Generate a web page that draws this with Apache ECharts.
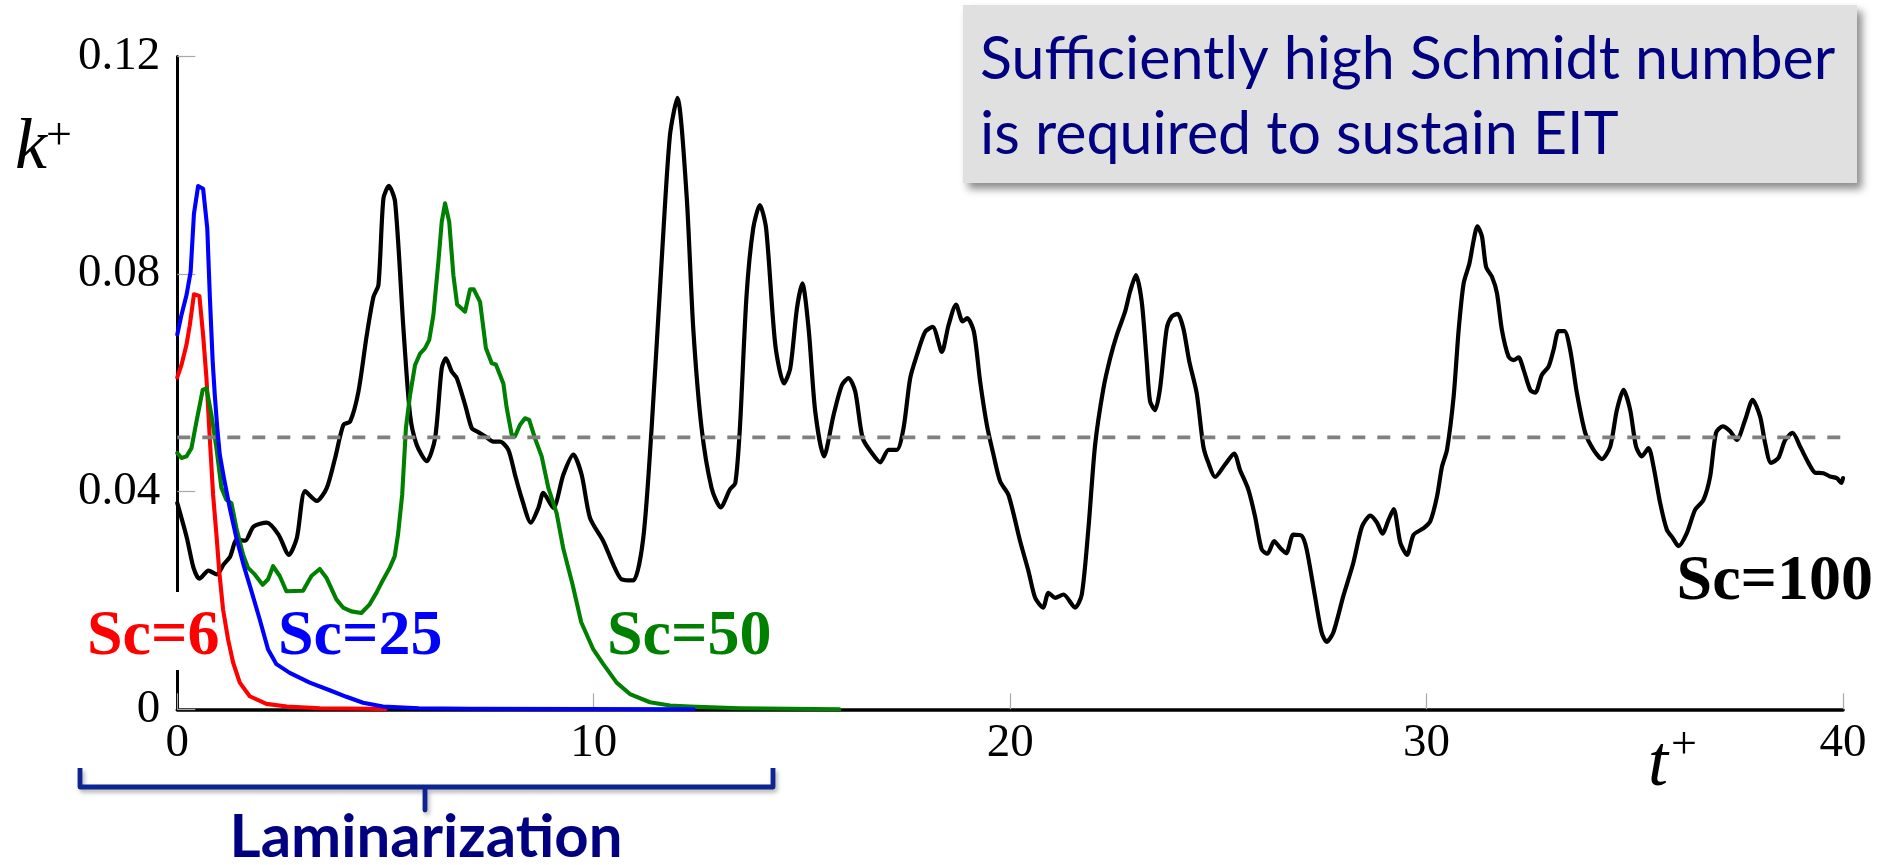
<!DOCTYPE html>
<html>
<head>
<meta charset="utf-8">
<script src="https://cdn.jsdelivr.net/npm/echarts@6/dist/echarts.min.js"></script>
<style>
  html, body { margin: 0; padding: 0; background: #ffffff; }
  #chart { width: 1879px; height: 865px; }
</style>
</head>
<body>
<div id="chart"></div>
<script>
// Axis tick labels
const xTickLabels = ['0', '10', '20', '30', '40'];
const yTickLabels = ['0', '0.04', '0.08', '0.12'];

// Reference level of k+
const kThreshold = 0.05;

// Turbulent kinetic energy k+ versus time t+ for each Schmidt number: [t+, k+]
const sc6 = [
  [0, 0.061], [0.1, 0.0633], [0.22, 0.067], [0.3, 0.0706], [0.4, 0.0763], [0.53, 0.076],
  [0.62, 0.0688], [0.7, 0.0609], [0.78, 0.0498], [0.86, 0.0394], [0.94, 0.0321], [1.01, 0.0251],
  [1.1, 0.0183], [1.22, 0.0128], [1.34, 0.0086], [1.5, 0.0049], [1.74, 0.0024], [2.14, 0.001],
  [2.63, 0.0005], [3.43, 0.0002], [4.6, 0.0001], [5.0, 0]
];

const sc25 = [
  [0, 0.0689], [0.1, 0.0725], [0.22, 0.0761], [0.32, 0.0804], [0.4, 0.0911], [0.5, 0.0962],
  [0.62, 0.0957], [0.72, 0.0884], [0.78, 0.0761], [0.85, 0.0639], [0.9, 0.0578], [0.96, 0.0517],
  [1.02, 0.0468], [1.12, 0.0425], [1.26, 0.037], [1.42, 0.0315], [1.6, 0.0263], [1.77, 0.022],
  [1.98, 0.0165], [2.18, 0.011], [2.38, 0.0083], [2.7, 0.0067], [3.18, 0.0049], [3.66, 0.0035],
  [4.06, 0.0023], [4.46, 0.0012], [4.94, 0.0005], [5.8, 0.0002], [7.0, 0.0001], [12.4, 0]
];

const sc50 = [
  [0, 0.0471], [0.1, 0.0462], [0.22, 0.0465], [0.34, 0.048], [0.46, 0.0529], [0.61, 0.0587],
  [0.7, 0.059], [0.82, 0.0541], [0.94, 0.048], [1.06, 0.0407], [1.18, 0.0385], [1.3, 0.0379],
  [1.42, 0.0333], [1.58, 0.0284], [1.7, 0.026], [1.86, 0.0248], [2.05, 0.0229], [2.18, 0.0239],
  [2.3, 0.0263], [2.46, 0.0245], [2.62, 0.0217], [3.02, 0.0218], [3.22, 0.0245], [3.42, 0.0258],
  [3.58, 0.0242], [3.82, 0.0202], [3.98, 0.0187], [4.18, 0.018], [4.42, 0.0177], [4.62, 0.0193],
  [4.78, 0.0214], [4.9, 0.0232], [5.1, 0.026], [5.22, 0.0281], [5.3, 0.0321], [5.4, 0.0394],
  [5.49, 0.0517], [5.59, 0.0578], [5.71, 0.0633], [5.83, 0.0654], [5.95, 0.0664], [6.05, 0.0679],
  [6.15, 0.0725], [6.27, 0.0823], [6.35, 0.0896], [6.43, 0.093], [6.53, 0.0896], [6.63, 0.0798],
  [6.72, 0.0744], [6.91, 0.0731], [7.03, 0.0772], [7.12, 0.0772], [7.27, 0.0749], [7.41, 0.0664],
  [7.55, 0.0636], [7.65, 0.0634], [7.83, 0.0599], [7.91, 0.0554], [8.03, 0.0505], [8.11, 0.0502],
  [8.23, 0.0523], [8.35, 0.0535], [8.45, 0.0532], [8.59, 0.0498], [8.75, 0.0465], [8.91, 0.0407],
  [9.11, 0.036], [9.27, 0.0295], [9.49, 0.023], [9.7, 0.016], [9.99, 0.011], [10.23, 0.0083],
  [10.55, 0.0049], [10.87, 0.0028], [11.35, 0.0013], [11.83, 0.0007], [12.31, 0.0005],
  [13.5, 0.0002], [15.9, 0]
];

const sc100 = [
  [0, 0.0379], [0.23, 0.0315], [0.39, 0.026], [0.53, 0.024], [0.75, 0.0255], [0.95, 0.0248],
  [1.11, 0.0266], [1.27, 0.0281], [1.43, 0.0312], [1.63, 0.031], [1.83, 0.0336], [2.15, 0.0343],
  [2.43, 0.0321], [2.68, 0.0284], [2.87, 0.0315], [3.07, 0.0401], [3.35, 0.0383], [3.59, 0.0407],
  [3.79, 0.0462], [3.99, 0.0523], [4.15, 0.0529], [4.35, 0.0584], [4.55, 0.0688], [4.71, 0.0758],
  [4.83, 0.078], [4.95, 0.0939], [5.08, 0.0962], [5.23, 0.0933], [5.43, 0.07], [5.59, 0.0541],
  [5.75, 0.0486], [5.99, 0.0456], [6.19, 0.0498], [6.35, 0.0627], [6.45, 0.0645], [6.59, 0.0621],
  [6.71, 0.0609], [6.91, 0.056], [7.07, 0.0517], [7.19, 0.0511], [7.39, 0.0502], [7.59, 0.0492],
  [7.75, 0.0492], [7.95, 0.0477], [8.11, 0.0431], [8.27, 0.0388], [8.49, 0.0343], [8.67, 0.037],
  [8.79, 0.0398], [9.03, 0.037], [9.27, 0.0431], [9.51, 0.0468], [9.71, 0.0431], [9.91, 0.0352],
  [10.23, 0.0309], [10.47, 0.0266], [10.67, 0.0239], [10.95, 0.0237], [11.19, 0.0315],
  [11.39, 0.0517], [11.63, 0.0823], [11.83, 0.1055], [12.01, 0.1124], [12.23, 0.0945],
  [12.39, 0.07], [12.59, 0.0517], [12.83, 0.0407], [13.05, 0.0371], [13.27, 0.0404], [13.4, 0.0416],
  [13.51, 0.0517], [13.67, 0.0761], [13.83, 0.0884], [13.99, 0.0927], [14.14, 0.0884], [14.36, 0.067],
  [14.57, 0.0599], [14.72, 0.0627], [14.88, 0.0737], [15.01, 0.0783], [15.16, 0.07], [15.32, 0.0547],
  [15.53, 0.0465], [15.76, 0.0541], [15.96, 0.0596], [16.12, 0.0609], [16.28, 0.0584], [16.46, 0.0498],
  [16.68, 0.0471], [16.88, 0.0454], [17.08, 0.0477], [17.28, 0.0477], [17.44, 0.0517], [17.6, 0.0609],
  [17.76, 0.0651], [17.96, 0.0694], [18.14, 0.0703], [18.36, 0.0657], [18.52, 0.0706], [18.7, 0.0744],
  [18.86, 0.0713], [18.97, 0.0719], [19.13, 0.0694], [19.28, 0.0602], [19.44, 0.0523], [19.6, 0.0468],
  [19.76, 0.0419], [19.96, 0.0394], [20.24, 0.0309], [20.44, 0.0254], [20.6, 0.0205], [20.79, 0.0187],
  [20.92, 0.0214], [21.08, 0.0205], [21.28, 0.0211], [21.56, 0.0187], [21.72, 0.0211], [21.88, 0.0333],
  [22.04, 0.0486], [22.24, 0.059], [22.4, 0.0645], [22.56, 0.0688], [22.76, 0.0731], [22.88, 0.0768],
  [23.02, 0.0798], [23.16, 0.0749], [23.28, 0.0639], [23.36, 0.0566], [23.48, 0.055], [23.6, 0.059],
  [23.76, 0.07], [23.88, 0.0722], [24.02, 0.0727], [24.16, 0.07], [24.3, 0.064], [24.48, 0.0581],
  [24.64, 0.0483], [24.76, 0.0453], [24.92, 0.0427], [25.16, 0.045], [25.38, 0.047], [25.52, 0.044],
  [25.72, 0.0404], [25.88, 0.0355], [26.04, 0.0294], [26.18, 0.0286], [26.34, 0.0309], [26.48, 0.0297],
  [26.63, 0.0287], [26.8, 0.0321], [27.0, 0.0319], [27.12, 0.0294], [27.32, 0.0208], [27.48, 0.0141],
  [27.6, 0.0124], [27.76, 0.0141], [28.0, 0.0208], [28.24, 0.0269], [28.45, 0.0336], [28.65, 0.0356],
  [28.81, 0.0343], [28.94, 0.0323], [29.09, 0.0349], [29.21, 0.0368], [29.37, 0.0306], [29.53, 0.0284],
  [29.69, 0.0321], [29.93, 0.0333], [30.09, 0.0346], [30.25, 0.0391], [30.37, 0.0446], [30.49, 0.0477],
  [30.65, 0.0575], [30.77, 0.0697], [30.89, 0.0783], [31.03, 0.082], [31.13, 0.0862], [31.22, 0.0888],
  [31.33, 0.0869], [31.43, 0.0813], [31.57, 0.0795], [31.69, 0.0765], [31.81, 0.0697], [31.97, 0.0648],
  [32.09, 0.0642], [32.21, 0.0647], [32.33, 0.0624], [32.49, 0.0587], [32.61, 0.0582], [32.77, 0.0615],
  [32.93, 0.063], [33.05, 0.0661], [33.17, 0.0695], [33.31, 0.0695], [33.45, 0.066], [33.61, 0.0581],
  [33.81, 0.0508], [34.01, 0.0477], [34.21, 0.046], [34.41, 0.0483], [34.57, 0.055], [34.73, 0.0587],
  [34.89, 0.055], [35.03, 0.0483], [35.17, 0.0465], [35.33, 0.048], [35.45, 0.0446], [35.61, 0.0379],
  [35.77, 0.033], [35.91, 0.0315], [36.05, 0.03], [36.25, 0.0324], [36.45, 0.0367], [36.65, 0.0385],
  [36.81, 0.0428], [36.95, 0.0508], [37.11, 0.052], [37.29, 0.0511], [37.45, 0.0495], [37.65, 0.0532],
  [37.83, 0.0569], [38.01, 0.0538], [38.13, 0.0489], [38.27, 0.0453], [38.45, 0.0462], [38.61, 0.0495],
  [38.79, 0.0508], [38.97, 0.0483], [39.17, 0.0453], [39.33, 0.0435], [39.53, 0.0434], [39.69, 0.0428],
  [39.85, 0.0425], [39.96, 0.0416], [40.0, 0.0425]
];

const serif = '"Liberation Serif", "Times New Roman", serif';
const sans = 'Lato, "Open Sans", sans-serif';
const navy = '#000080';

// Pick a font size so that a text run spans a given pixel width
const measureCtx = document.createElement('canvas').getContext('2d');
function fitSize(text, weight, family, targetWidth) {
  const probe = 100;
  measureCtx.font = weight + ' ' + probe + 'px ' + family;
  return probe * targetWidth / measureCtx.measureText(text).width;
}
const noteSize = fitSize('Sufficiently high Schmidt number', 'normal', sans, 856);
const lamSize = fitSize('Laminarization', 'bold', sans, 393);

const chart = echarts.init(document.getElementById('chart'), null, { renderer: 'canvas' });

function curve(name, data, color, width, z, smooth) {
  return {
    name: name,
    type: 'line',
    data: data,
    showSymbol: false,
    smooth: smooth,
    z: z,
    lineStyle: { color: color, width: width, join: 'round', cap: 'round' },
    emphasis: { disabled: true },
    animation: false
  };
}

function label(text, x, y, color, align) {
  return {
    type: 'text', z: 22, x: x, y: y,
    style: { text: text, fill: color, font: 'bold 64px ' + serif, textAlign: align, textVerticalAlign: 'middle' }
  };
}

chart.setOption({
  animation: false,
  backgroundColor: '#ffffff',
  grid: { left: 177.3, right: 36, top: 56.5, bottom: 155.7, containLabel: false },
  xAxis: {
    type: 'value', min: 0, max: 40, interval: 10,
    axisLine: { show: true, onZero: false, lineStyle: { color: '#000', width: 3.6 } },
    axisTick: { show: true, inside: true, length: 16, lineStyle: { color: '#a8a8a8', width: 1.2 } },
    axisLabel: {
      margin: 11, color: '#000', fontFamily: serif, fontSize: 47,
      formatter: v => xTickLabels[Math.round(v / 10)]
    },
    splitLine: { show: false }
  },
  yAxis: {
    type: 'value', min: 0, max: 0.12, interval: 0.04,
    axisLine: { show: true, onZero: false, lineStyle: { color: '#000', width: 3 } },
    axisTick: { show: true, inside: true, length: 18, lineStyle: { color: '#a8a8a8', width: 1.2 } },
    axisLabel: {
      margin: 17, color: '#000', fontFamily: serif, fontSize: 47,
      formatter: v => yTickLabels[Math.round(v / 0.04)]
    },
    splitLine: { show: false }
  },
  series: [
    curve('Sc=100', sc100, '#000000', 4.2, 3, 0.25),
    curve('Sc=6', sc6, '#ff0000', 4.1, 4, false),
    curve('Sc=50', sc50, '#008000', 4.1, 5, false),
    curve('Sc=25', sc25, '#0000ff', 4.1, 6, false),
    {
      name: 'threshold',
      type: 'line',
      data: [[0, kThreshold], [40, kThreshold]],
      showSymbol: false,
      z: 8,
      lineStyle: { color: '#808080', width: 3.8, type: [13, 12] },
      emphasis: { disabled: true },
      animation: false
    }
  ],
  graphic: {
    elements: [
      // gap in the vertical axis behind the Sc=6 label
      { type: 'rect', z: 1, shape: { x: 170, y: 592, width: 16, height: 78 }, style: { fill: '#ffffff' } },
      // annotation box
      {
        type: 'rect', z: 20,
        shape: { x: 963, y: 5, width: 894, height: 178 },
        style: { fill: '#e0e0e0', shadowBlur: 8, shadowOffsetX: 5, shadowOffsetY: 6, shadowColor: 'rgba(0,0,0,0.45)' }
      },
      {
        type: 'text', z: 21, x: 980, y: 60,
        style: { text: 'Sufficiently high Schmidt number', fill: navy, font: noteSize.toFixed(1) + 'px ' + sans, textAlign: 'left', textVerticalAlign: 'middle' }
      },
      {
        type: 'text', z: 21, x: 980, y: 135,
        style: { text: 'is required to sustain EIT', fill: navy, font: noteSize.toFixed(1) + 'px ' + sans, textAlign: 'left', textVerticalAlign: 'middle' }
      },
      // series labels
      label('Sc=6', 87, 637, '#ff0000', 'left'),
      label('Sc=25', 278, 637, '#0000ff', 'left'),
      label('Sc=50', 607, 637, '#008000', 'left'),
      label('Sc=100', 1873, 582, '#000000', 'right'),
      // axis names
      {
        type: 'text', z: 22, x: 15, y: 149,
        style: { text: 'k', fill: '#000', font: 'italic 72px ' + serif, textAlign: 'left', textVerticalAlign: 'middle' }
      },
      {
        type: 'text', z: 22, x: 46, y: 137,
        style: { text: '+', fill: '#000', font: '46px ' + serif, textAlign: 'left', textVerticalAlign: 'middle' }
      },
      {
        type: 'text', z: 22, x: 1648, y: 766,
        style: { text: 't', fill: '#000', font: 'italic 72px ' + serif, textAlign: 'left', textVerticalAlign: 'middle' }
      },
      {
        type: 'text', z: 22, x: 1671, y: 746,
        style: { text: '+', fill: '#000', font: '46px ' + serif, textAlign: 'left', textVerticalAlign: 'middle' }
      },
      // laminarization brace
      {
        type: 'polyline', z: 22,
        shape: { points: [[80, 768], [80, 787], [425, 787], [425, 810], [425, 787], [773, 787], [773, 768]] },
        style: { stroke: '#0d2590', lineWidth: 4.8, fill: null, lineJoin: 'round', shadowBlur: 4, shadowOffsetX: 2, shadowOffsetY: 3, shadowColor: 'rgba(0,0,0,0.3)' }
      },
      {
        type: 'text', z: 22, x: 426, y: 838,
        style: { text: 'Laminarization', fill: navy, font: 'bold ' + lamSize.toFixed(1) + 'px ' + sans, textAlign: 'center', textVerticalAlign: 'middle' }
      }
    ]
  }
});
</script>
</body>
</html>
